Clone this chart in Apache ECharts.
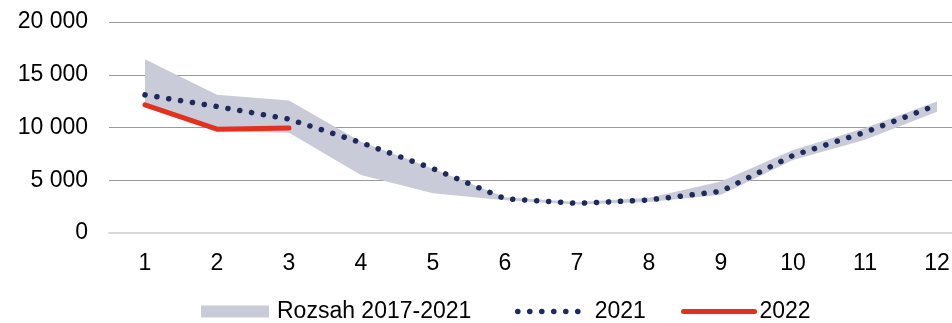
<!DOCTYPE html>
<html>
<head>
<meta charset="utf-8">
<script src="https://cdn.jsdelivr.net/npm/echarts@6/dist/echarts.min.js"></script>
<style>
  html, body { margin: 0; padding: 0; background: #fff; }
  #chart { width: 952px; height: 323px; }
</style>
</head>
<body>
<div id="chart"></div>
<script>
const months = ["1", "2", "3", "4", "5", "6", "7", "8", "9", "10", "11", "12"];
// rozsah 2017-2021 (min / max)
const rangeLow = [12000, 9650, 9500, 5500, 3760, 3100, 2700, 2950, 3620, 6920, 8850, 11500];
const rangeHigh = [16480, 13100, 12550, 8650, 6100, 3400, 2950, 3350, 4880, 7870, 9950, 12460];
const y2021 = [13090, 11990, 10790, 8570, 6100, 3250, 2810, 3130, 3950, 7350, 9550, 12140];
const y2022 = [12140, 9840, 9960];

const rangeDiff = rangeHigh.map((v, i) => v - rangeLow[i]);

const chart = echarts.init(document.getElementById("chart"));

const fontFamily = "Liberation Sans, Arial, sans-serif";
const fs = 23;
const dotted = [0.1, 11.9];

let option = {
  animation: false,
  textStyle: { fontFamily: fontFamily },
  grid: {
    left: 109,
    top: 22,
    width: 864,
    height: 211,
    outerBoundsMode: "none",
  },
  legend: [
    {
      left: 201,
      top: 300,
      padding: 0,
      icon: "rect",
      itemWidth: 68,
      itemHeight: 12,
      itemStyle: { color: "#C9CBD9", borderWidth: 0 },
      textStyle: { fontSize: fs, color: "#000", padding: [0, 0, 0, 3] },
      data: ["Rozsah 2017-2021"],
    },
    {
      left: 515,
      top: 300,
      padding: 0,
      itemWidth: 66,
      itemHeight: 12,
      itemStyle: { opacity: 0 },
      lineStyle: { color: "#1F2A5C", width: 5.5, type: dotted, cap: "round" },
      textStyle: { fontSize: fs, color: "#000", padding: [0, 0, 0, 6] },
      data: ["2021"],
    },
    {
      left: 681,
      top: 300,
      padding: 0,
      itemWidth: 71,
      itemHeight: 12,
      itemStyle: { opacity: 0 },
      lineStyle: { color: "#E3301F", width: 5, cap: "round" },
      textStyle: { fontSize: fs, color: "#000", padding: [0, 0, 0, 0] },
      data: ["2022"],
    },
  ],
  xAxis: {
    type: "category",
    data: months,
    boundaryGap: true,
    axisTick: { show: false },
    axisLine: { show: true, lineStyle: { color: "#d9d9d9", width: 2 } },
    axisLabel: { fontSize: fs, color: "#000", margin: 19 },
  },
  yAxis: {
    type: "value",
    min: 0,
    max: 20000,
    interval: 5000,
    axisLine: { show: false },
    axisTick: { show: false },
    axisLabel: {
      fontSize: fs,
      color: "#000",
      margin: 21,
      formatter: function (v) {
        return String(v).replace(/\B(?=(\d{3})+(?!\d))/g, " ");
      },
    },
    splitLine: { lineStyle: { color: "#9a9a9a", width: 1 } },
  },
  series: [
    {
      name: "low",
      type: "line",
      stack: "band",
      data: rangeLow,
      symbol: "none",
      lineStyle: { opacity: 0 },
      silent: true,
      z: 1,
    },
    {
      name: "Rozsah 2017-2021",
      type: "line",
      stack: "band",
      data: rangeDiff,
      symbol: "none",
      itemStyle: { color: "#C9CBD9" },
      lineStyle: { width: 0, opacity: 0 },
      areaStyle: { color: "#C9CBD9", opacity: 1 },
      silent: true,
      z: 1,
    },
    {
      name: "2021",
      type: "line",
      data: y2021,
      symbol: "none",
      itemStyle: { color: "#1F2A5C" },
      lineStyle: {
        color: "#1F2A5C",
        width: 5.5,
        type: dotted,
        cap: "round",
      },
      z: 3,
    },
    {
      name: "2022",
      type: "line",
      data: y2022,
      symbol: "none",
      itemStyle: { color: "#E3301F" },
      lineStyle: { color: "#E3301F", width: 5, cap: "round", join: "round" },
      z: 4,
    },
  ],
};

chart.setOption(option);
</script>
</body>
</html>
